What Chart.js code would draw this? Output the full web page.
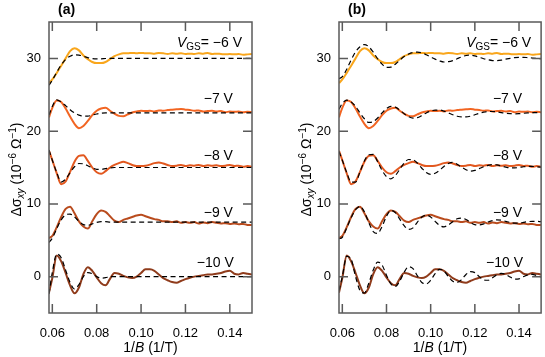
<!DOCTYPE html>
<html>
<head>
<meta charset="utf-8">
<script src="https://cdn.jsdelivr.net/npm/chart.js@4.4.1/dist/chart.umd.min.js"></script>
<style>
  html, body { margin: 0; padding: 0; background: #fff; }
  #wrap { position: relative; width: 545px; height: 357px; }
  #ca { position: absolute; left: 0; top: 0; }
  #cb { position: absolute; left: 272px; top: 0; }
</style>
</head>
<body>
<div id="wrap">
  <canvas id="ca" width="272" height="357"></canvas>
  <canvas id="cb" width="273" height="357"></canvas>
</div>
<script>
// 1/B sample points (1/T)
const xs = [0.0585, 0.060, 0.062, 0.064, 0.066, 0.068, 0.070, 0.072, 0.074, 0.076,
  0.078, 0.080, 0.082, 0.084, 0.086, 0.088, 0.090, 0.092, 0.094, 0.096,
  0.098, 0.100, 0.102, 0.104, 0.106, 0.108, 0.110, 0.112, 0.114, 0.116,
  0.118, 0.120, 0.122, 0.124, 0.126, 0.128, 0.130, 0.132, 0.134, 0.136,
  0.138, 0.140, 0.142, 0.144, 0.146, 0.148, 0.150];

const xTicks = [0.06, 0.08, 0.10, 0.12, 0.14];
const yTicks = [0, 10, 20, 30];
const gateLabels = ['\u22126 V', '\u22127 V', '\u22128 V', '\u22129 V', '\u221210 V'];

// measured curves (offset), same in both panels
const meas6 = [26.6, 27.1, 28.0, 29.0, 30.0, 31.0, 31.4, 31.1, 30.4, 29.9,
  29.5, 29.35, 29.35, 29.5, 29.9, 30.3, 30.55, 30.7, 30.7, 30.75,
  30.7, 30.75, 30.7, 30.7, 30.65, 30.75, 30.7, 30.6, 30.7, 30.65,
  30.7, 30.6, 30.65, 30.6, 30.7, 30.65, 30.75, 30.6, 30.65, 30.6,
  30.55, 30.6, 30.55, 30.6, 30.5, 30.55, 30.6];
const meas7 = [21.9, 23.2, 24.2, 24.0, 23.1, 22.0, 21.0, 20.4, 20.7, 21.4,
  22.2, 22.8, 23.1, 23.2, 22.8, 22.4, 22.1, 22.05, 22.3, 22.55,
  22.7, 22.8, 22.75, 22.8, 22.7, 22.85, 22.8, 22.9, 22.95, 23.0,
  23.05, 22.95, 22.9, 22.8, 22.85, 22.7, 22.75, 22.8, 22.7, 22.75,
  22.6, 22.7, 22.65, 22.7, 22.6, 22.65, 22.6];
const meas8 = [17.3, 16.0, 14.2, 12.7, 13.1, 14.4, 15.8, 16.6, 16.7, 15.9,
  15.0, 14.35, 14.15, 14.5, 15.0, 15.35, 15.6, 15.8, 15.6, 15.35,
  15.2, 15.2, 15.25, 15.4, 15.6, 15.7, 15.55, 15.35, 15.2, 15.25,
  15.35, 15.2, 15.3, 15.25, 15.35, 15.2, 15.3, 15.25, 15.3, 15.2,
  15.25, 15.35, 15.2, 15.25, 15.1, 15.2, 15.1];
const meas9 = [5.3, 5.6, 6.8, 8.2, 9.3, 9.6, 8.7, 7.6, 6.9, 6.6,
  7.6, 8.6, 9.1, 8.9, 8.3, 7.7, 7.5, 7.8, 8.0, 8.2,
  8.4, 8.5, 8.3, 8.1, 7.9, 7.8, 7.6, 7.6, 7.5, 7.6,
  7.4, 7.5, 7.4, 7.5, 7.3, 7.45, 7.35, 7.5, 7.4, 7.3,
  7.35, 7.25, 7.3, 7.2, 7.25, 7.1, 7.1];
const meas10 = [-2.2, -0.2, 2.9, 2.1, 0.5, -1.2, -2.3, -1.5, 0.35, 1.3,
  0.8, -0.1, -0.9, -1.2, -0.3, 0.5, 0.4, 0.1, -0.1, -0.2,
  0.0, 0.5, 1.0, 1.0, 0.8, 0.3, -0.2, -0.5, -0.75, -0.85,
  -0.6, -0.35, -0.15, 0.0, 0.1, 0.2, 0.3, 0.3, 0.4, 0.5,
  0.7, 0.8, 0.4, 0.3, 0.5, 0.4, 0.3];

// fits, panel (a)
const fitA6 = [26.3, 27.0, 28.1, 29.1, 29.85, 30.3, 30.5, 30.45, 30.3, 30.1,
  29.97, 29.92, 29.93, 29.98, 30, 30, 30, 30, 30, 30,
  30, 30, 30, 30, 30, 30, 30, 30, 30, 30,
  30, 30, 30, 30, 30, 30, 30, 30, 30, 30,
  30, 30, 30, 30, 30, 30, 30];
const fitA7 = [22.2, 23.4, 24.3, 24.0, 23.5, 22.95, 22.5, 22.2, 22.05, 22.05,
  22.2, 22.35, 22.45, 22.5, 22.5, 22.5, 22.5, 22.5, 22.5, 22.5,
  22.5, 22.5, 22.5, 22.5, 22.5, 22.5, 22.5, 22.5, 22.5, 22.5,
  22.5, 22.5, 22.5, 22.5, 22.5, 22.5, 22.5, 22.5, 22.5, 22.5,
  22.5, 22.5, 22.5, 22.5, 22.5, 22.5, 22.5];
const fitA8 = [17.4, 16.0, 14.3, 13.0, 13.4, 14.3, 15.1, 15.55, 15.5, 15.25,
  14.95, 14.75, 14.75, 14.85, 14.95, 15, 15, 15, 15, 15,
  15, 15, 15, 15, 15, 15, 15, 15, 15, 15,
  15, 15, 15, 15, 15, 15, 15, 15, 15, 15,
  15, 15, 15, 15, 15, 15, 15];
const fitA9 = [4.7, 5.3, 6.6, 7.8, 8.5, 8.6, 8.2, 7.6, 7.15, 7.05,
  7.25, 7.45, 7.55, 7.55, 7.5, 7.5, 7.5, 7.5, 7.5, 7.5,
  7.5, 7.5, 7.5, 7.5, 7.5, 7.5, 7.5, 7.5, 7.5, 7.5,
  7.5, 7.5, 7.5, 7.5, 7.5, 7.5, 7.5, 7.5, 7.5, 7.5,
  7.5, 7.5, 7.5, 7.5, 7.5, 7.5, 7.5];
const fitA10 = [-2.4, 0.6, 3.1, 2.6, 0.9, -0.8, -1.7, -1.1, 0.0, 0.55,
  0.4, 0.0, -0.2, -0.15, 0, 0, 0, 0, 0, 0,
  0, 0, 0, 0, 0, 0, 0, 0, 0, 0,
  0, 0, 0, 0, 0, 0, 0, 0, 0, 0,
  0, 0, 0, 0, 0, 0, 0];

// fits, panel (b)
const fitB6 = [27.2, 27.5, 28.5, 29.8, 30.9, 31.6, 31.9, 31.6, 30.85, 29.95,
  29.2, 28.75, 28.8, 29.2, 29.75, 30.25, 30.6, 30.8, 30.85, 30.75,
  30.5, 30.2, 29.9, 29.65, 29.5, 29.55, 29.7, 29.95, 30.2, 30.4,
  30.45, 30.35, 30.15, 29.95, 29.8, 29.7, 29.68, 29.75, 29.9, 30.0,
  30.1, 30.15, 30.15, 30.1, 30.05, 30.0, 29.95];
const fitB7 = [23.0, 23.8, 24.25, 24.0, 23.4, 22.5, 21.7, 21.2, 21.3, 21.8,
  22.5, 23.1, 23.4, 23.3, 22.9, 22.4, 22.0, 21.8, 21.85, 22.15,
  22.5, 22.75, 22.9, 22.9, 22.75, 22.5, 22.25, 22.05, 21.95, 21.95,
  22.05, 22.25, 22.45, 22.6, 22.7, 22.7, 22.65, 22.55, 22.45, 22.4,
  22.38, 22.4, 22.45, 22.5, 22.55, 22.55, 22.55];
const fitB8 = [17.2, 16.0, 14.3, 13.0, 13.0, 14.4, 15.9, 16.75, 16.8, 15.8,
  14.6, 13.75, 13.45, 13.9, 14.75, 15.6, 16.1, 16.05, 15.6, 14.9,
  14.3, 14.05, 14.2, 14.6, 15.15, 15.55, 15.7, 15.45, 15.05, 14.7,
  14.5, 14.6, 14.85, 15.1, 15.3, 15.4, 15.35, 15.2, 15.05, 14.95,
  14.95, 15.0, 15.1, 15.15, 15.15, 15.1, 15.05];
const fitB9 = [5.2, 5.4, 6.7, 8.1, 9.2, 9.65, 8.9, 7.4, 6.2, 5.95,
  6.9, 8.3, 9.1, 8.8, 7.9, 7.0, 6.5, 6.7, 7.5, 8.2,
  8.45, 8.2, 7.6, 7.05, 6.85, 7.1, 7.55, 7.95, 8.05, 7.85,
  7.45, 7.15, 7.1, 7.25, 7.5, 7.7, 7.8, 7.75, 7.6, 7.45,
  7.35, 7.35, 7.45, 7.55, 7.6, 7.6, 7.55];
const fitB10 = [-1.9, 0.0, 2.8, 2.4, 0.0, -1.9, -2.25, -0.9, 0.9, 2.0,
  1.6, 0.2, -1.0, -1.35, -0.6, 0.6, 1.35, 1.1, 0.1, -0.8,
  -1.0, -0.5, 0.4, 1.0, 0.8, 0.0, -0.65, -0.8, -0.4, 0.3,
  0.7, 0.55, 0.0, -0.45, -0.5, -0.15, 0.25, 0.45, 0.3, -0.05,
  -0.35, -0.3, 0.0, 0.25, 0.3, 0.15, -0.05];

const measured = [meas6, meas7, meas8, meas9, meas10];
const fitsA = [fitA6, fitA7, fitA8, fitA9, fitA10];
const fitsB = [fitB6, fitB7, fitB8, fitB9, fitB10];

const colors = ['#f9a61c', '#f26522', '#e2581f', '#b94b1d', '#8f3b1b'];
const FONT = '"Liberation Sans", Arial, sans-serif';
// label anchors in data coordinates (right edge x, centre y)
const labelRight = [0.1455, 0.1414, 0.1414, 0.1414, 0.1418];
const labelMid = [32.05, 24.35, 16.6, 8.7, 1.8];

function rich(ctx, parts, x, y, align) {
  let w = 0;
  parts.forEach(p => { ctx.font = p.f; w += ctx.measureText(p.t).width; });
  let cx = align === 'right' ? x - w : align === 'center' ? x - w / 2 : x;
  parts.forEach(p => {
    ctx.font = p.f;
    ctx.fillText(p.t, cx, y + (p.dy || 0));
    cx += ctx.measureText(p.t).width;
  });
}

const frame = {
  id: 'frame',
  afterDraw(chart, args, opts) {
    const { ctx, chartArea: a, scales: { x, y } } = chart;
    ctx.save();
    // box + inward ticks on all sides
    ctx.strokeStyle = '#5a5a5a';
    ctx.lineWidth = 1.5;
    ctx.strokeRect(a.left, a.top, a.right - a.left, a.bottom - a.top);
    ctx.beginPath();
    x.ticks.forEach(t => {
      const px = x.getPixelForValue(t.value);
      ctx.moveTo(px, a.bottom); ctx.lineTo(px, a.bottom - 9);
      ctx.moveTo(px, a.top); ctx.lineTo(px, a.top + 9);
    });
    y.ticks.forEach(t => {
      const py = y.getPixelForValue(t.value);
      ctx.moveTo(a.left, py); ctx.lineTo(a.left + 9, py);
      ctx.moveTo(a.right, py); ctx.lineTo(a.right - 9, py);
    });
    ctx.stroke();

    ctx.fillStyle = '#000';
    // panel letter
    ctx.textBaseline = 'middle';
    ctx.textAlign = 'left';
    ctx.font = 'bold 14px ' + FONT;
    ctx.fillText(opts.letter, a.left + 9, 10);

    const n = '14px ' + FONT, it = 'italic 14px ' + FONT, s = '10px ' + FONT, si = 'italic 10px ' + FONT;
    // x title
    rich(ctx, [{ t: '1/', f: n }, { t: 'B', f: it }, { t: ' (1/T)', f: n }], (a.left + a.right) / 2, 348, 'center');

    // y title
    ctx.save();
    ctx.translate(a.left - 28, (a.top + a.bottom) / 2 + 2);
    ctx.rotate(-Math.PI / 2);
    ctx.textBaseline = 'alphabetic';
    rich(ctx, [
      { t: '\u0394\u03c3', f: n }, { t: 'xy', f: si, dy: 3 },
      { t: ' (10', f: n }, { t: '\u22126', f: s, dy: -5.5 },
      { t: ' \u03a9', f: n }, { t: '\u22121', f: s, dy: -5.5 }, { t: ')', f: n }
    ], 0, 0, 'center');
    ctx.restore();

    // gate-voltage labels
    gateLabels.forEach((g, i) => {
      const px = x.getPixelForValue(labelRight[i]);
      const py = y.getPixelForValue(labelMid[i]);
      const parts = i === 0
        ? [{ t: 'V', f: it }, { t: 'GS', f: s, dy: 4 }, { t: '= ' + g, f: n }]
        : [{ t: g, f: n }];
      rich(ctx, parts, px, py, 'right');
    });
    ctx.restore();
  }
};

function series(vals) {
  return xs.map((v, k) => ({ x: v, y: vals[k] }));
}

function makeChart(id, fits, letter, yWidth, padRight) {
  const datasets = [];
  fits.forEach(f => datasets.push({
    data: series(f), borderColor: '#000', borderWidth: 1.2, borderDash: [5, 3.5], order: 0
  }));
  measured.forEach((m, i) => datasets.push({
    data: series(m), borderColor: colors[i], borderWidth: 2, order: 1
  }));
  const tickFont = { family: FONT, size: 13 };
  return new Chart(document.getElementById(id), {
    type: 'line',
    data: { datasets: datasets },
    options: {
      responsive: false,
      animation: false,
      layout: { padding: { top: 22, right: padRight, left: 0, bottom: 0 } },
      elements: { point: { radius: 0 }, line: { cubicInterpolationMode: 'monotone' } },
      plugins: { legend: { display: false }, tooltip: { enabled: false }, frame: { letter: letter } },
      scales: {
        x: {
          type: 'linear', min: 0.0585, max: 0.15,
          afterBuildTicks: s => { s.ticks = xTicks.map(v => ({ value: v })); },
          afterFit: s => { s.height = 44; },
          grid: { display: false, drawTicks: false },
          border: { display: false },
          ticks: { padding: 13, font: tickFont, color: '#000', maxRotation: 0, autoSkip: false,
                   callback: v => v.toFixed(2) }
        },
        y: {
          type: 'linear', min: -5, max: 35,
          afterBuildTicks: s => { s.ticks = yTicks.map(v => ({ value: v })); },
          afterFit: s => { s.width = yWidth; },
          grid: { display: false, drawTicks: false },
          border: { display: false },
          ticks: { padding: 8, font: tickFont, color: '#000' }
        }
      }
    },
    plugins: [frame]
  });
}

makeChart('ca', fitsA, '(a)', 49, 20);
makeChart('cb', fitsB, '(b)', 67, 3);
</script>
</body>
</html>
